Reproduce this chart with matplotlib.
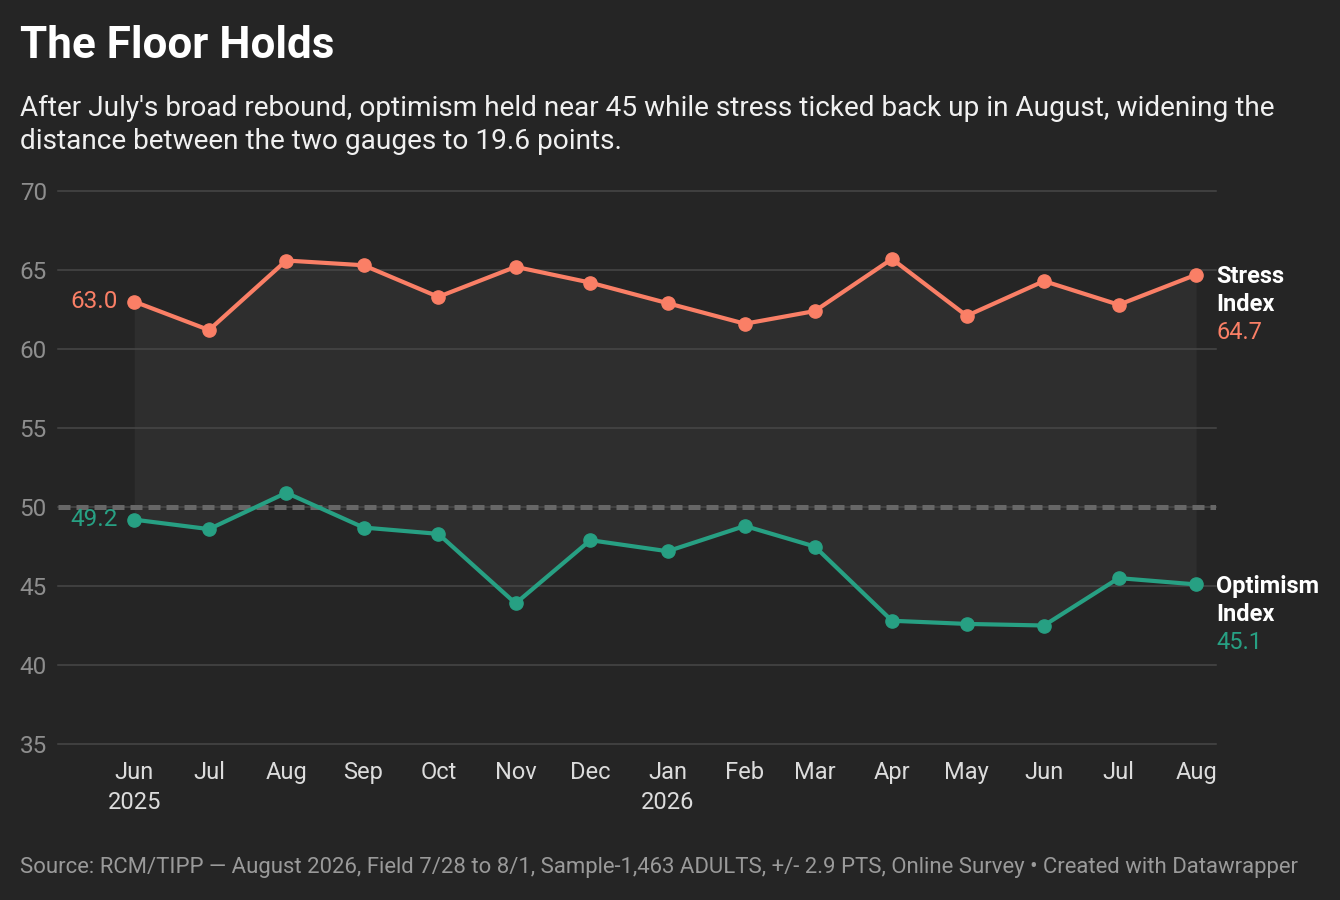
import matplotlib
matplotlib.use("Agg")
import matplotlib.pyplot as plt
from datetime import datetime

plt.rcParams['font.family'] = ['Roboto', 'DejaVu Sans']

# data (first of each month)
months = [datetime(2025, m, 1) for m in range(6, 13)] + [datetime(2026, m, 1) for m in range(1, 9)]
month_labels = ['Jun\n2025', 'Jul', 'Aug', 'Sep', 'Oct', 'Nov', 'Dec', 'Jan\n2026',
                'Feb', 'Mar', 'Apr', 'May', 'Jun', 'Jul', 'Aug']
stress = [63.0, 61.2, 65.6, 65.3, 63.3, 65.2, 64.2, 62.9, 61.6, 62.4, 65.7, 62.1, 64.3, 62.8, 64.7]
optimism = [49.2, 48.6, 50.9, 48.7, 48.3, 43.9, 47.9, 47.2, 48.8, 47.5, 42.8, 42.6, 42.5, 45.5, 45.1]
y_ticks = [35, 40, 45, 50, 55, 60, 65, 70]
baseline = 50

BG = '#252525'
STRESS_C = '#fa7f66'
OPT_C = '#27a083'
GRID_C = '#474747'

fig = plt.figure(figsize=(13.4, 9), dpi=100, facecolor=BG)
ax = fig.add_axes([58 / 1340, 1 - 744 / 900, (1216 - 58) / 1340, (744 - 191) / 900])
ax.set_facecolor(BG)

ax.set_ylim(35, 70)
ax.set_xlim(datetime(2025, 5, 1, 10), datetime(2026, 8, 9))

for y in y_ticks:
    ax.axhline(y, color=GRID_C, lw=1.1, zorder=1, clip_on=False)

# shaded gap between the two gauges
ax.fill_between(months, optimism, stress, color='#2e2e2e', lw=0, zorder=0.5)

ax.axhline(baseline, color='#676767', lw=3.6, linestyle=(0, (2.4, 1.2)), zorder=2)

ax.plot(months, stress, color=STRESS_C, lw=3, marker='o', ms=9.5, zorder=4, clip_on=False)
ax.plot(months, optimism, color=OPT_C, lw=3, marker='o', ms=9.5, zorder=4, clip_on=False)

for s in ax.spines.values():
    s.set_visible(False)

ax.set_yticks(y_ticks)
ax.set_yticklabels([str(v) for v in y_ticks])
ax.set_xticks(months)
ax.set_xticklabels(month_labels)
ax.tick_params(axis='y', length=0, pad=8, labelsize=17.5, labelcolor='#8e8e8e')
ax.tick_params(axis='x', length=0, pad=12, labelsize=17, labelcolor='#dcdcdc')
for lab in ax.get_xticklabels():
    lab.set_linespacing(1.4)

# start values
ax.annotate(f'{stress[0]:.1f}', (months[0], stress[0]), xytext=(-12, 0), textcoords='offset points',
            ha='right', va='center', fontsize=17.5, color=STRESS_C)
ax.annotate(f'{optimism[0]:.1f}', (months[0], optimism[0]), xytext=(-12, 0), textcoords='offset points',
            ha='right', va='center', fontsize=17.5, color=OPT_C)

# end labels
for name, vals, col in [('Stress', stress, STRESS_C), ('Optimism', optimism, OPT_C)]:
    pt = (months[-1], vals[-1])
    ax.annotate(name, pt, xytext=(14.5, -1.5), textcoords='offset points', ha='left', va='center',
                fontsize=17, fontweight='bold', color='white', annotation_clip=False)
    ax.annotate('Index', pt, xytext=(14.5, -21.7), textcoords='offset points', ha='left', va='center',
                fontsize=17, fontweight='bold', color='white', annotation_clip=False)
    ax.annotate(f'{vals[-1]:.1f}', pt, xytext=(14.5, -41.9), textcoords='offset points', ha='left',
                va='center', fontsize=17, color=col, annotation_clip=False)

fig.text(20 / 1340, 1 - 46 / 900, 'The Floor Holds', fontsize=31.7, fontweight='bold',
         color='white', ha='left', va='center')
fig.text(20 / 1340, 1 - 125 / 900,
         "After July's broad rebound, optimism held near 45 while stress ticked back up in August, widening the\n"
         "distance between the two gauges to 19.6 points.",
         fontsize=20.2, color='#f0f0f0', ha='left', va='center', linespacing=1.3)
fig.text(20 / 1340, 1 - 868 / 900,
         'Source: RCM/TIPP \u2014 August 2026, Field 7/28 to 8/1, Sample-1,463 ADULTS, +/- 2.9 PTS, '
         'Online Survey \u2022 Created with Datawrapper',
         fontsize=15.9, color='#9a9a9a', ha='left', va='center')

fig.savefig('out.png', dpi=100, facecolor=BG)
